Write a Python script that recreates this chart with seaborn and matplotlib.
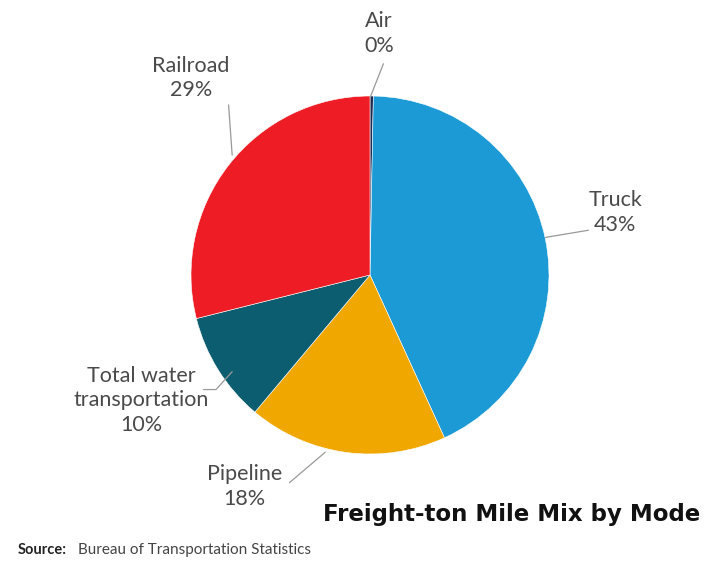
import matplotlib
matplotlib.use('Agg')
import matplotlib.pyplot as plt
import seaborn as sns

# freight ton-miles share by mode (clockwise from top)
modes = ['Air', 'Truck', 'Pipeline', 'Total water\ntransportation', 'Railroad']
shares = [0.3, 43, 18, 10, 29]
colors = ['#1f2a50', '#1b9ad6', '#f0a700', '#0d5d70', '#ee1c24']

sns.set_theme(style='white')
plt.rcParams['font.family'] = ['Lato', 'DejaVu Sans']

fig = plt.figure(figsize=(7.2, 5.67), dpi=100)
# pie centred at (370, 275) px with radius ~179 px
r = 179
ax = fig.add_axes([(370 - r) / 720, (567 - 275 - r) / 567, 2 * r / 720, 2 * r / 567])
ax.pie(shares, colors=colors, startangle=90, counterclock=False,
       wedgeprops=dict(linewidth=0.4, edgecolor='white'))
ax.set_xlim(-1, 1)
ax.set_ylim(-1, 1)
ax.set_aspect('equal')

# label positions (pie data coords) and leader lines
label_pos = [(0.05, 1.35), (1.37, 0.35), (-0.70, -1.18), (-1.28, -0.70), (-1.0, 1.10)]
leaders = [((0.0, 0.99), (0.075, 1.18)),
           ((0.98, 0.21), (1.22, 0.25)),
           ((-0.25, -0.99), (-0.45, -1.16)),
           ((-0.77, -0.54), (-0.86, -0.64)),
           ((-0.77, 0.67), (-0.79, 0.95))]
for m, s, pos, (p0, p1) in zip(modes, shares, label_pos, leaders):
    txt = m + '\n' + f'{round(s):.0f}%'
    ax.text(pos[0], pos[1], txt, ha='center', va='center', fontsize=15.5,
            color='#4a4a4a', linespacing=1.3, clip_on=False)
    if m == 'Total water\ntransportation':
        ax.plot([p0[0], p1[0], -0.93], [p0[1], p1[1], -0.64], color='#999999', lw=0.9, clip_on=False)
    else:
        ax.plot([p0[0], p1[0]], [p0[1], p1[1]], color='#999999', lw=0.9, clip_on=False)

fig.text(0.972, 1 - 515 / 567, 'Freight-ton Mile Mix by Mode', ha='right', va='center',
         fontsize=16.5, fontweight='bold', color='#111111', family=['DejaVu Sans'])
fig.text(18 / 720, 1 - 550 / 567, 'Source:', ha='left', va='center', fontsize=10.5,
         fontweight='bold', color='#222222')
fig.text(78 / 720, 1 - 550 / 567, 'Bureau of Transportation Statistics', ha='left',
         va='center', fontsize=11, color='#444444')

fig.savefig('out.png', dpi=100)
